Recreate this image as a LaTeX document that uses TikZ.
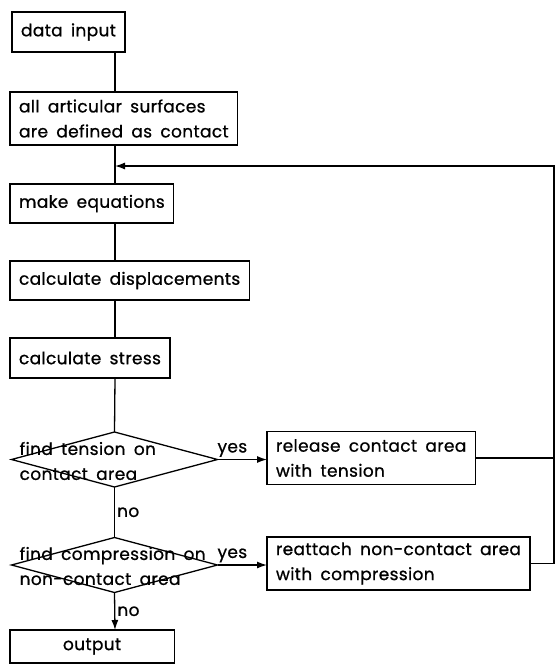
\documentclass[tikz,border=0pt]{standalone}
\usepackage{fontspec}
\setmainfont{Poppins}[WordSpace=1.7,LetterSpace=2,FakeBold=0.8]
\usetikzlibrary{arrows.meta,positioning,shapes.geometric}

\begin{document}
\begin{tikzpicture}[x=1pt,y=-1pt,
  line width=1.3pt,
  font=\fontsize{17}{25}\selectfont,
  blk/.style={draw,anchor=west,align=left,inner xsep=9pt,inner ysep=0pt,outer sep=0pt,minimum height=39pt},
  blk2/.style={blk,minimum height=53pt},
  dia/.style={draw,diamond,inner sep=0pt,outer sep=0pt,minimum width=206pt,minimum height=55pt},
  dtxt/.style={anchor=west,align=left,inner sep=0pt},
  lbl/.style={inner sep=2pt},
  arr/.style={-{Latex[length=10pt,width=7pt]}}]
\useasboundingbox (0,0) rectangle (556,665);
\coordinate (trk) at (115,0);
\coordinate (rt) at (554,0);
\coordinate (fb) at (115,166);
\node[blk,minimum height=40pt] (dat) at (12,32) {data input};
\node[blk2] (art) at (10,118.5) {all articular surfaces\\are defined as contact};
\node[blk] (eqn) at (10,203.5) {make equations};
\node[blk] (dsp) at (10,280.5) {calculate displacements};
\node[blk,minimum height=40pt] (str) at (10,358) {calculate stress};
\node[dia] (d1) at (114.5,459.5) {};
\node[dtxt] (d1t) at (19,461) {find tension on\\contact area};
\node[dia] (d2) at (114.5,565) {};
\node[dtxt] (d2t) at (19,566) {find compression on\\non-contact area};
\node[blk2] (rel) at (267,458) {release contact area\\with tension};
\node[blk2] (rea) at (267,563.5) {reattach non-contact area\\with compression};
\node[blk,minimum height=33pt] (out) at (10,646.5) {\hspace*{44pt}output\hspace*{44pt}};
% main trunk
\draw (dat.south -| trk) -- (art.north -| trk);
\draw (art.south -| trk) -- (eqn.north -| trk);
\draw (eqn.south -| trk) -- (dsp.north -| trk);
\draw (dsp.south -| trk) -- (str.north -| trk);
\draw (str.south -| trk) -- (d1.north);
\draw (d1.south) -- node[lbl,right] (no1) {no} (d2.north);
\draw[arr] (d2.south) -- node[lbl,right] (no2) {no} (out.north -| trk);
% yes branches
\draw[arr] (d1.east) -- node[lbl,above,pos=0.3] (yes1) {yes} (d1.east -| rel.west);
\draw[arr] (d2.east) -- node[lbl,above,pos=0.3] (yes2) {yes} (d2.east -| rea.west);
% feedback loop
\draw (rel.east) -- (rel.east -| rt);
\draw[arr] (rea.east) -- (rea.east -| rt) |- (fb);
\end{tikzpicture}
\end{document}
